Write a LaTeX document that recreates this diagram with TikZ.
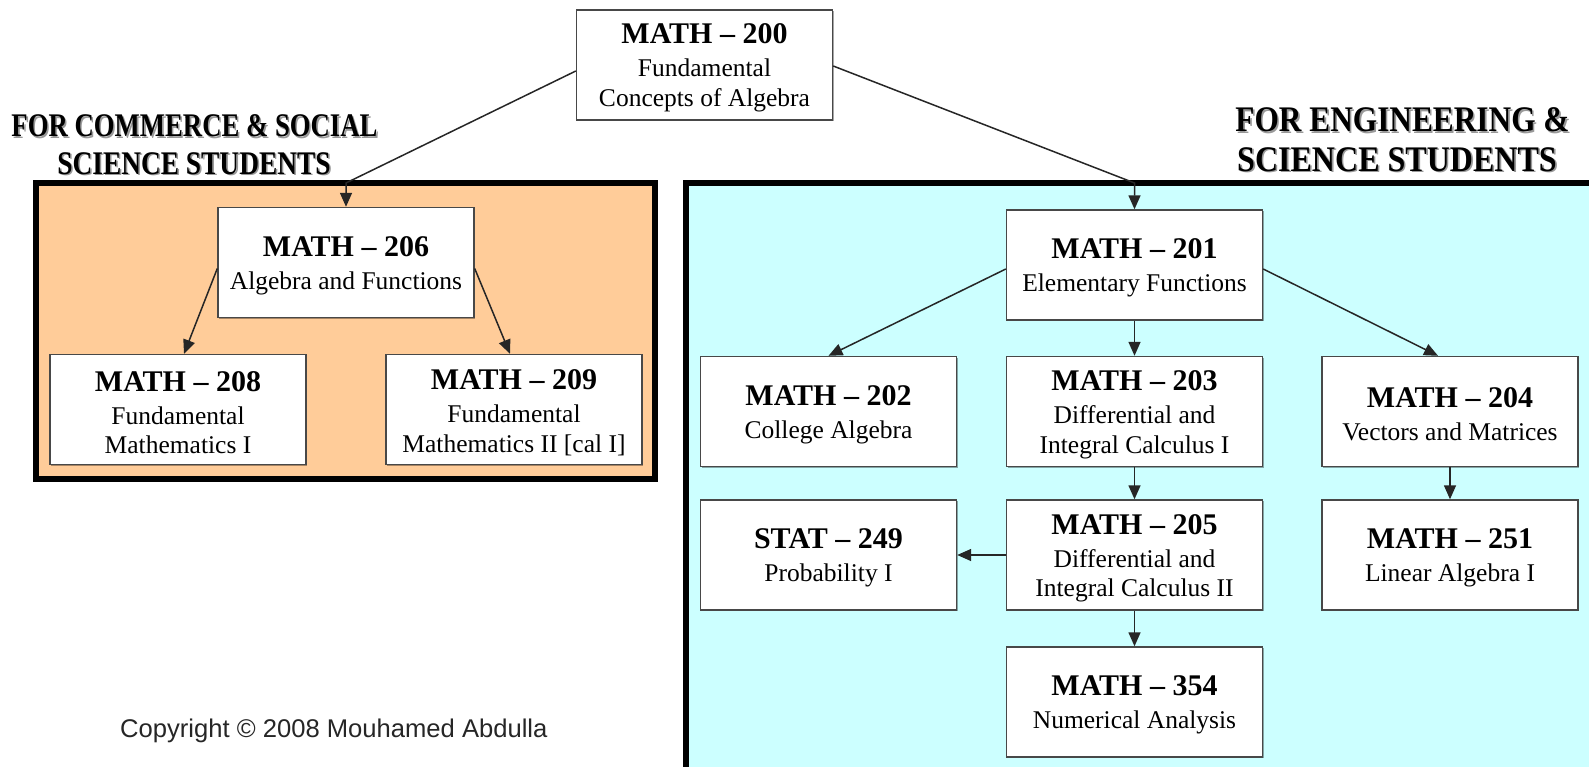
\documentclass[tikz,border=0pt]{standalone}
\usepackage{graphicx}
\usepackage{fontspec}
\setmainfont{Liberation Serif}
\newfontfamily\copyfont{Liberation Sans}
\usetikzlibrary{arrows.meta,shadows,calc}
\definecolor{panelorange}{HTML}{FFCC99}
\definecolor{panelcyan}{HTML}{CCFFFF}
\definecolor{boxline}{HTML}{484848}
\tikzset{
 course/.style={draw=boxline, line width=1.4pt, fill=white, minimum width=256pt, minimum height=110pt,
   inner sep=0pt, align=center, font=\fontsize{25.5}{29.5}\selectfont,
   drop shadow={shadow xshift=1.2pt, shadow yshift=-1.2pt, opacity=0.35, fill=black}},
 link/.style={draw=black!85, line width=1.5pt, -{Triangle[length=14pt,width=12pt]}},
 panel/.style={line width=6pt, draw=black},
 heading/.style={inner sep=0pt},
}
\newcommand\ctitle[1]{{\fontsize{30}{32}\selectfont\bfseries\rule{0pt}{26pt}#1}\\[3.5pt]}
\newcommand\headline[5]{%
 \node[heading, text=black!40, font=\fontsize{#3}{#3}\selectfont\bfseries] at ($(#2)+(1.6,1.6)$) {\scalebox{#4}[1]{#5}};
 \node[heading, text=black, font=\fontsize{#3}{#3}\selectfont\bfseries] (#1) at (#2) {\scalebox{#4}[1]{#5}};}
\begin{document}
\begin{tikzpicture}[x=1pt,y=-1pt]
\useasboundingbox (0,0) rectangle (1589,767);
\fill[white] (0,0) rectangle (1589,767);
% panels
\draw[panel, fill=panelorange] (36,183) rectangle (655,478.5);
\draw[panel, fill=panelcyan] (686,183) rectangle (1596,790);
\coordinate (ptop) at (0,183);
% headings
\headline{hl1}{194.5,126}{33}{0.81}{FOR COMMERCE \& SOCIAL}
\headline{hl2}{194,163.5}{33}{0.83}{SCIENCE STUDENTS}
\headline{hr1}{1402.5,120}{36}{0.87}{FOR ENGINEERING \&}
\headline{hr2}{1397,159.5}{36}{0.89}{SCIENCE STUDENTS}
% courses
\node[course] (m200) at (704.5,65) {\ctitle{MATH – 200} Fundamental\\ Concepts of Algebra};
\node[course] (m206) at (346,262.5) {\ctitle{MATH – 206} Algebra and Functions};
\node[course] (m208) at (178,409.5) {\ctitle{MATH – 208} Fundamental\\ Mathematics I};
\node[course] (m209) at (514,409.5) {\ctitle{MATH – 209} Fundamental\\ Mathematics II [cal I]};
\node[course] (m201) at (1134.5,265) {\ctitle{MATH – 201} Elementary Functions};
\node[course] (m202) at (828.5,411.5) {\ctitle{MATH – 202} College Algebra};
\node[course] (m203) at (1134.5,411.5) {\ctitle{MATH – 203} Differential and\\ Integral Calculus I};
\node[course] (m204) at (1450,411.5) {\ctitle{MATH – 204} Vectors and Matrices};
\node[course] (s249) at (828.5,555) {\ctitle{STAT – 249} Probability I};
\node[course] (m205) at (1134.5,555) {\ctitle{MATH – 205} Differential and\\ Integral Calculus II};
\node[course] (m251) at (1450,555) {\ctitle{MATH – 251} Linear Algebra I};
\node[course] (m354) at (1134.5,702) {\ctitle{MATH – 354} Numerical Analysis};
% elbows on panel tops
\coordinate (eL) at (m206.north |- ptop);
\coordinate (eR) at (m201.north |- ptop);
% connectors
\draw[link] ([yshift=-6pt]m200.west) -- (eL) -- (m206.north);
\draw[link] ([yshift=-1pt]m200.east) -- (eR) -- (m201.north);
\draw[link] ([yshift=-6pt]m206.west) -- ([xshift=6pt]m208.north);
\draw[link] ([yshift=-6pt]m206.east) -- ([xshift=-4pt]m209.north);
\draw[link] ([yshift=-4pt]m201.west) -- (m202.north);
\draw[link] ([yshift=-4pt]m201.east) -- ([xshift=-12pt]m204.north);
\draw[link] (m201.south) -- (m203.north);
\draw[link] (m203.south) -- (m205.north);
\draw[link] (m205.west) -- (s249.east);
\draw[link] (m204.south) -- (m251.north);
\draw[link] (m205.south) -- (m354.north);
% copyright
\node[anchor=base west, inner sep=0pt, font=\copyfont\fontsize{25.6}{28}\selectfont, text=black!85] (copy) at (120,737) {Copyright © 2008 Mouhamed Abdulla};
\end{tikzpicture}
\end{document}
